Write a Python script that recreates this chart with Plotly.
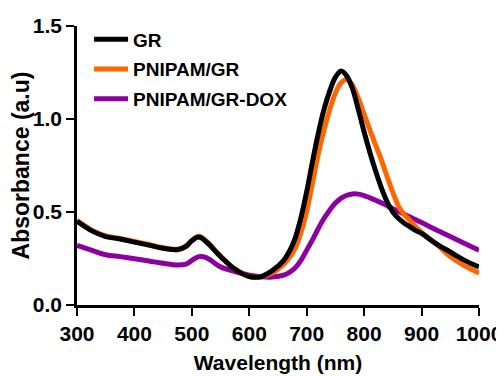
import plotly.graph_objects as go

wavelength = [300, 325, 350, 375, 400, 425, 450, 475, 490, 500, 512, 525, 550, 575,
              600, 620, 640, 660, 670, 680, 690, 700, 710, 720, 730, 740, 750, 760,
              770, 780, 790, 800, 810, 820, 830, 840, 850, 860, 870, 880, 890, 900,
              925, 950, 975, 1000]

gr = [0.450, 0.400, 0.368, 0.355, 0.338, 0.322, 0.305, 0.297, 0.315, 0.345, 0.365, 0.340, 0.260, 0.192,
      0.153, 0.152, 0.185, 0.240, 0.290, 0.360, 0.470, 0.610, 0.770, 0.920, 1.050, 1.150, 1.225, 1.258,
      1.230, 1.160, 1.050, 0.930, 0.820, 0.720, 0.630, 0.555, 0.500, 0.465, 0.440, 0.420, 0.400, 0.385,
      0.330, 0.285, 0.240, 0.205]

pnipam_gr = [0.455, 0.404, 0.371, 0.358, 0.341, 0.325, 0.308, 0.300, 0.318, 0.348, 0.369, 0.344, 0.263, 0.194,
             0.153, 0.152, 0.172, 0.220, 0.255, 0.305, 0.390, 0.505, 0.655, 0.810, 0.940, 1.050, 1.140, 1.195,
             1.212, 1.180, 1.110, 1.025, 0.940, 0.860, 0.780, 0.690, 0.605, 0.530, 0.485, 0.455, 0.420, 0.390,
             0.330, 0.260, 0.210, 0.172]

pnipam_gr_dox = [0.320, 0.295, 0.270, 0.260, 0.249, 0.237, 0.224, 0.215, 0.220, 0.240, 0.260, 0.255, 0.205, 0.180,
                 0.160, 0.152, 0.150, 0.160, 0.175, 0.200, 0.240, 0.295, 0.350, 0.410, 0.465, 0.510, 0.548, 0.575,
                 0.590, 0.597, 0.596, 0.588, 0.576, 0.563, 0.550, 0.534, 0.518, 0.503, 0.488, 0.473, 0.458, 0.443,
                 0.405, 0.368, 0.331, 0.294]

names = ["GR", "PNIPAM/GR", "PNIPAM/GR-DOX"]
colors = ["#000000", "#FF6600", "#8C00A0"]
series = [gr, pnipam_gr, pnipam_gr_dox]

x_ticks = [300, 400, 500, 600, 700, 800, 900, 1000]
y_ticks = [0.0, 0.5, 1.0, 1.5]
y_tick_text = ["0.0", "0.5", "1.0", "1.5"]

fig = go.Figure()
for i in [2, 1, 0]:
    fig.add_trace(go.Scatter(
        x=wavelength, y=series[i], name=names[i], mode="lines",
        line=dict(color=colors[i], width=5, shape="spline", smoothing=1.0),
        legendgroup=names[i], legendrank=i + 1,
    ))

font_family = "Liberation Sans, Arial, sans-serif"
# the page body has an 8px margin, so the figure is sized to fit the 504x376 window
fig.update_layout(
    width=496, height=368,
    margin=dict(l=69, r=25, t=16, b=71),
    paper_bgcolor="white", plot_bgcolor="white",
    font=dict(family=font_family, color="black"),
    showlegend=True,
    legend=dict(x=0.03, y=1.02, xanchor="left", yanchor="top",
                font=dict(size=19, family=font_family, color="black", weight="bold"),
                bgcolor="rgba(0,0,0,0)", traceorder="grouped", tracegroupgap=2,
                itemwidth=34),
    xaxis=dict(range=[300, 1000], tickvals=x_ticks, ticks="outside", ticklen=8, tickwidth=2,
               tickcolor="black", showline=True, linecolor="black", linewidth=2.5,
               showgrid=False, zeroline=False, automargin=False,
               tickfont=dict(size=21, family=font_family, weight="bold"),
               title=dict(text="Wavelength (nm)", font=dict(size=21, family=font_family, weight="bold"),
                          standoff=12)),
    yaxis=dict(range=[0, 1.5], tickvals=y_ticks, ticktext=y_tick_text, ticks="outside", ticklen=8,
               tickwidth=2, tickcolor="black", showline=True, linecolor="black", linewidth=2.5,
               showgrid=False, zeroline=False, automargin=False,
               tickfont=dict(size=21, family=font_family, weight="bold"),
               title=dict(text="Absorbance (a.u)", font=dict(size=23, family=font_family, weight="bold"),
                          standoff=0)),
)

fig.write_html("out.html")
